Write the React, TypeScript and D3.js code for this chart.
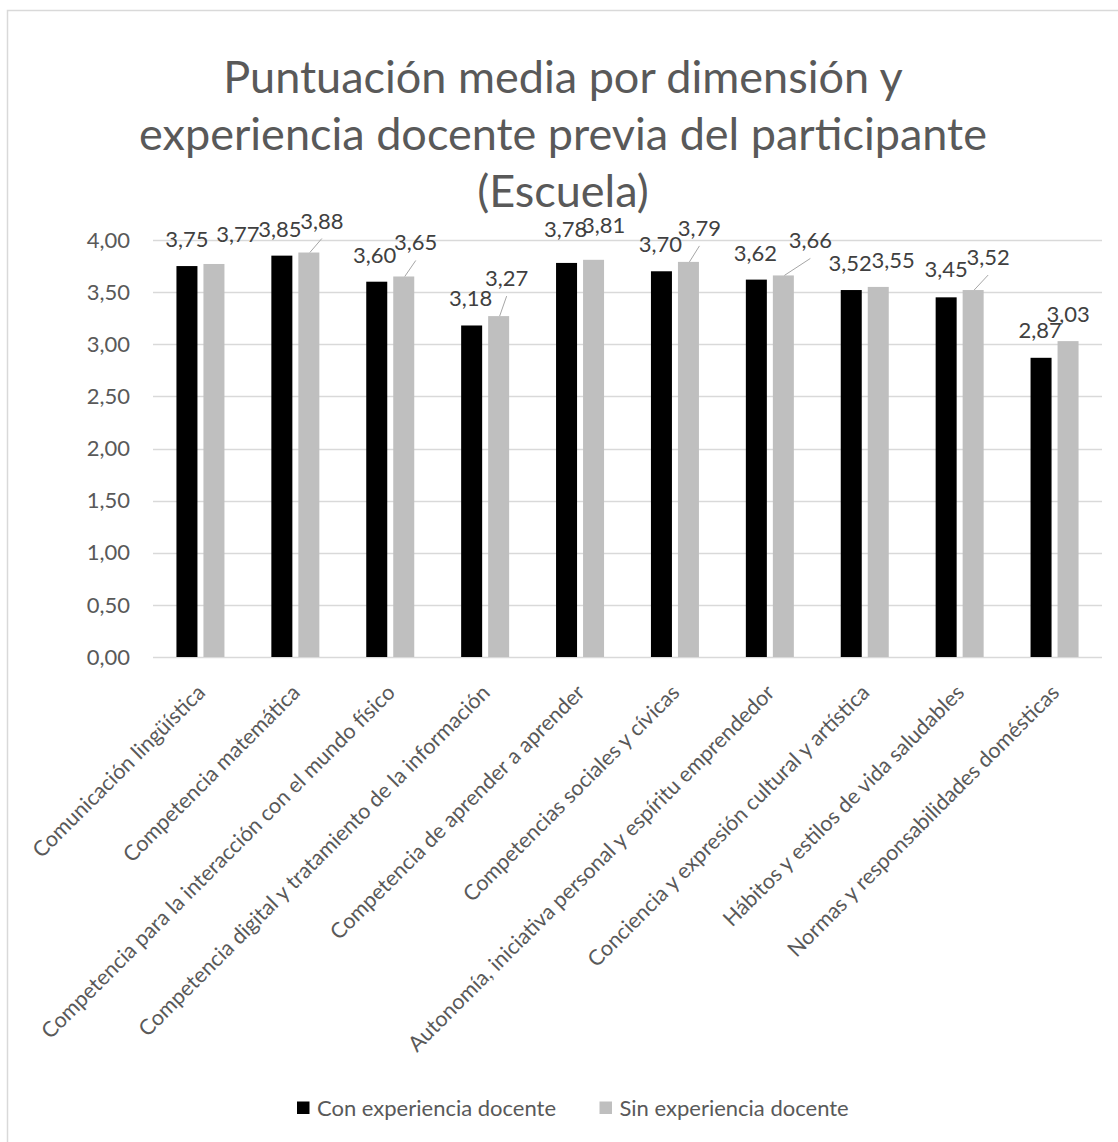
import React from "react";
import * as d3 from "d3";

const categories = [
  "Comunicación lingüística",
  "Competencia matemática",
  "Competencia para la interacción con el mundo físico",
  "Competencia digital y tratamiento de la información",
  "Competencia de aprender a aprender",
  "Competencias sociales y cívicas",
  "Autonomía, iniciativa personal y espíritu emprendedor",
  "Conciencia y expresión cultural y artística",
  "Hábitos y estilos de vida saludables",
  "Normas y responsabilidades domésticas",
];
const conExperiencia = [3.75, 3.85, 3.6, 3.18, 3.78, 3.7, 3.62, 3.52, 3.45, 2.87];
const sinExperiencia = [3.77, 3.88, 3.65, 3.27, 3.81, 3.79, 3.66, 3.55, 3.52, 3.03];
const seriesNames = ["Con experiencia docente", "Sin experiencia docente"];
const yTicks = [0, 0.5, 1, 1.5, 2, 2.5, 3, 3.5, 4];
const titleLines = [
  "Puntuación media por dimensión y",
  "experiencia docente previa del participante",
  "(Escuela)",
];

// label nudges (px) relative to bar-top center, as placed in the original
const labelDxA = [0, -2, -2, -1, -1, -1, -1, -1, 0, -1];
const labelDyA = [-19, -19, -19, -19, -26, -19, -19, -19, -20, -20];
const labelDxB = [24, 13, 12, 8, 10, 11, 27, 15, 15, 0];
const labelDyB = [-22, -24, -26, -30, -27, -26, -27, -19, -25, -19];
const leaderB = [false, true, true, true, false, true, true, false, true, false];

const FONT = "Lato, 'Open Sans', sans-serif";

export default function App() {
  const W = 1118;
  const H = 1142;
  const left = 153;
  const right = 1102;
  const top = 240;
  const bottom = 657;

  const x = d3.scaleBand<string>().domain(categories).range([left, right]).paddingInner(0).paddingOuter(0);
  const y = d3.scaleLinear().domain([0, 4]).range([bottom, top]);
  const barW = 21;
  const gap = 6;
  const fmt = (v: number) => d3.format(".2f")(v).replace(".", ",");

  const series = [
    { name: seriesNames[0], values: conExperiencia, color: "#000000", off: -(gap / 2 + barW), dx: labelDxA, dy: labelDyA, leader: categories.map(() => false) },
    { name: seriesNames[1], values: sinExperiencia, color: "#bfbfbf", off: gap / 2, dx: labelDxB, dy: labelDyB, leader: leaderB },
  ];

  return (
    <svg width={W} height={H} style={{ position: "absolute", left: 0, top: 0, background: "#fff" }} fontFamily={FONT}>
      <rect x={7.5} y={10.5} width={1130} height={1150} fill="#fff" stroke="#d9d9d9" strokeWidth={1.5} />
      {titleLines.map((t, i) => (
        <text key={i} x={563} y={93 + i * 57} textAnchor="middle" fontSize={45} fill="#595959">
          {t}
        </text>
      ))}
      {yTicks.map((t) => (
        <g key={t}>
          <line x1={left} x2={right} y1={Math.round(y(t)) + 0.5} y2={Math.round(y(t)) + 0.5} stroke="#d9d9d9" strokeWidth={1.5} />
          <text x={130} y={y(t)} dy="0.35em" textAnchor="end" fontSize={22} fill="#595959">
            {fmt(t)}
          </text>
        </g>
      ))}
      {series.map((s, si) => (
        <g key={si}>
          {categories.map((c, i) => {
            const cx = (x(c) as number) + x.bandwidth() / 2;
            const bx = cx + s.off;
            const by = y(s.values[i]);
            return <rect key={c} x={bx} y={by} width={barW} height={bottom - by} fill={s.color} />;
          })}
        </g>
      ))}
      {series.map((s, si) => (
        <g key={"l" + si}>
          {categories.map((c, i) => {
            const cx = (x(c) as number) + x.bandwidth() / 2;
            const bcx = cx + s.off + barW / 2;
            const by = y(s.values[i]);
            const lx = bcx + s.dx[i];
            const ly = by + s.dy[i];
            return (
              <g key={c}>
                {s.leader[i] && (
                  <line x1={bcx + 1} y1={by} x2={lx} y2={ly + 10} stroke="#a6a6a6" strokeWidth={1} />
                )}
                <text x={lx} y={ly} textAnchor="middle" fontSize={22} fill="#404040">
                  {fmt(s.values[i])}
                </text>
              </g>
            );
          })}
        </g>
      ))}
      {categories.map((c) => {
        const cx = (x(c) as number) + x.bandwidth() / 2;
        return (
          <text
            key={c}
            transform={`translate(${cx + 6},${694}) rotate(-45)`}
            textAnchor="end"
            fontSize={21.5}
            fill="#595959"
          >
            {c}
          </text>
        );
      })}
      {series.map((s, si) => {
        const lx = 297 + si * 302.5;
        return (
          <g key={"lg" + si}>
            <rect x={lx} y={1101.5} width={12.5} height={12.5} fill={s.color} />
            <text x={lx + 20} y={1116} fontSize={22} fill="#595959">
              {s.name}
            </text>
          </g>
        );
      })}
    </svg>
  );
}
